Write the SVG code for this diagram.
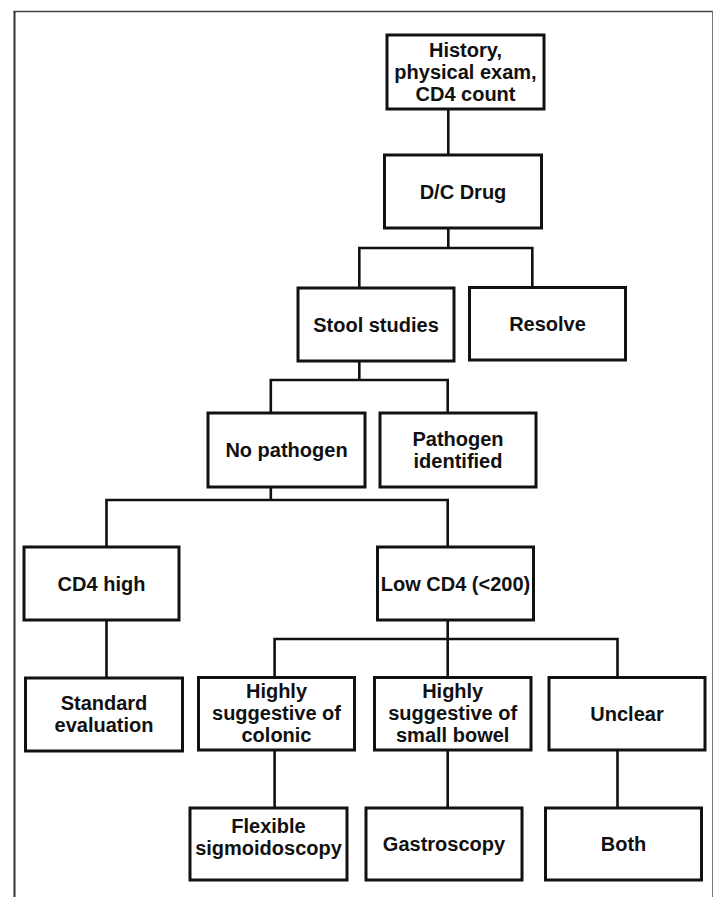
<svg xmlns="http://www.w3.org/2000/svg" width="720" height="897" viewBox="0 0 720 897">
<style>
.box{fill:#fff;stroke:#111;stroke-width:3}
.t{font-family:"Liberation Sans",Arial,sans-serif;font-weight:bold;font-size:20px;fill:#111;text-anchor:middle}
.c{fill:none;stroke:#111;stroke-width:2.6;stroke-linecap:butt;stroke-linejoin:miter}
</style>
<rect width="720" height="897" fill="#fff"/>
<g id="frame">
<line x1="13.5" y1="11.5" x2="713" y2="11.5" stroke="#444" stroke-width="1.5"/>
<line x1="14.5" y1="11" x2="14.5" y2="897" stroke="#333" stroke-width="2"/>
<line x1="712.5" y1="11" x2="712.5" y2="897" stroke="#777" stroke-width="1"/>
</g>
<g id="connectors">
<path class="c" d="M448.3 109V155"/>
<path class="c" d="M448.3 228V248M359.3 288V248H532.3V287"/>
<path class="c" d="M359.3 361V380M270.8 413V380H447.7V413"/>
<path class="c" d="M270.8 487V500M106.5 547V500H447.7V547"/>
<path class="c" d="M106.5 620V678"/>
<path class="c" d="M447.7 620V677M274.6 677V639H617.5V677"/>
<path class="c" d="M274.6 750V808M447.7 750V808M617.5 750V808"/>
</g>
<g id="n-history"><rect class="box" x="387" y="35" width="157" height="74"/>
<text class="t" x="465.5" y="57">History,</text><text class="t" x="465.5" y="79">physical exam,</text><text class="t" x="465.5" y="101">CD4 count</text></g>
<g id="n-dc"><rect class="box" x="384.5" y="155" width="157" height="73"/>
<text class="t" x="463" y="198.5">D/C Drug</text></g>
<g id="n-stool"><rect class="box" x="298" y="288" width="156" height="73"/>
<text class="t" x="376" y="331.5">Stool studies</text></g>
<g id="n-resolve"><rect class="box" x="469.5" y="287.5" width="156" height="72.5"/>
<text class="t" x="547.5" y="331">Resolve</text></g>
<g id="n-nopath"><rect class="box" x="208" y="413" width="157" height="74"/>
<text class="t" x="286.5" y="457">No pathogen</text></g>
<g id="n-pathid"><rect class="box" x="380" y="413" width="156" height="74"/>
<text class="t" x="458" y="446">Pathogen</text><text class="t" x="458" y="468">identified</text></g>
<g id="n-cd4high"><rect class="box" x="24" y="547" width="155" height="73"/>
<text class="t" x="101.5" y="590.5">CD4 high</text></g>
<g id="n-lowcd4"><rect class="box" x="377.5" y="547" width="156" height="73"/>
<text class="t" x="455.5" y="590.5">Low CD4 (&lt;200)</text></g>
<g id="n-standard"><rect class="box" x="25.5" y="678" width="157" height="73"/>
<text class="t" x="104" y="710">Standard</text><text class="t" x="104" y="732">evaluation</text></g>
<g id="n-colonic"><rect class="box" x="198.5" y="677.5" width="156" height="72.5"/>
<text class="t" x="276.5" y="698">Highly</text><text class="t" x="276.5" y="720">suggestive of</text><text class="t" x="276.5" y="742">colonic</text></g>
<g id="n-smallbowel"><rect class="box" x="374.5" y="677.5" width="156.5" height="72.5"/>
<text class="t" x="452.7" y="698">Highly</text><text class="t" x="452.7" y="720">suggestive of</text><text class="t" x="452.7" y="742">small bowel</text></g>
<g id="n-unclear"><rect class="box" x="549" y="677.5" width="156" height="72.5"/>
<text class="t" x="627" y="721">Unclear</text></g>
<g id="n-flex"><rect class="box" x="190" y="808" width="157" height="72"/>
<text class="t" x="268.5" y="833">Flexible</text><text class="t" x="268.5" y="855">sigmoidoscopy</text></g>
<g id="n-gastro"><rect class="box" x="366" y="808" width="156" height="72"/>
<text class="t" x="444" y="851">Gastroscopy</text></g>
<g id="n-both"><rect class="box" x="545.5" y="808" width="156" height="72"/>
<text class="t" x="623.5" y="851">Both</text></g>
</svg>
